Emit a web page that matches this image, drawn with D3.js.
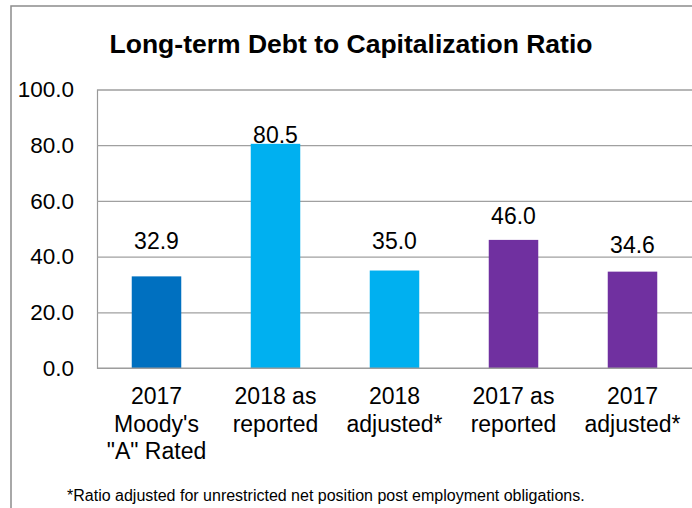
<!DOCTYPE html>
<html>
<head>
<meta charset="utf-8">
<script src="https://cdn.jsdelivr.net/npm/d3@7/dist/d3.min.js"></script>
<style>
  html, body { margin: 0; padding: 0; background: #fff; }
  svg { display: block; font-family: "Liberation Sans", Arial, sans-serif; }
</style>
</head>
<body>
<svg id="chart" width="692" height="508"></svg>
<script>
// Chart data
const categories = [
  "2017\nMoody's\n\"A\" Rated",
  "2018 as\nreported",
  "2018\nadjusted*",
  "2017 as\nreported",
  "2017\nadjusted*"
];
const values = [32.9, 80.5, 35.0, 46.0, 34.6];
const barColors = ["#0070C0", "#00B0F0", "#00B0F0", "#7030A0", "#7030A0"];
const yTicks = [0, 20, 40, 60, 80, 100];
const titleText = "Long-term Debt to Capitalization Ratio";
const footnoteText = "*Ratio adjusted for unrestricted net position post employment obligations.";

// Layout
const labelLift = [27, 1, 22, 16, 19];   // hand-placed gap between bar top and value label
const plot = { left: 97, right: 692, top: 89.5, bottom: 368 };

const svg = d3.select("#chart");

// Outer chart frame (runs off the right/bottom edge)
svg.append("rect")
  .attr("x", 11).attr("y", 6)
  .attr("width", 720).attr("height", 540)
  .attr("fill", "#fff")
  .attr("stroke", "#8c8c8c")
  .attr("stroke-width", 1.5);

const x = d3.scaleBand()
  .domain(categories)
  .range([plot.left, plot.right])
  .paddingInner(0.584)
  .paddingOuter(0.292);

const y = d3.scaleLinear()
  .domain([0, 100])
  .range([plot.bottom, plot.top]);

// Title
svg.append("text")
  .attr("x", 351).attr("y", 53)
  .attr("text-anchor", "middle")
  .attr("font-size", 26.5)
  .attr("font-weight", "bold")
  .attr("fill", "#000")
  .text(titleText);

// Y axis with gridlines
const yAxis = svg.append("g")
  .attr("transform", `translate(${plot.left},0)`)
  .call(d3.axisLeft(y)
    .tickValues(yTicks)
    .tickFormat(d3.format(".1f"))
    .tickSize(-(plot.right - plot.left))
    .tickPadding(23));
yAxis.select(".domain").attr("stroke", "#999").attr("stroke-width", 1.2);
yAxis.selectAll(".tick line").attr("stroke", "#a0a0a0").attr("stroke-width", 1.2);
yAxis.selectAll(".tick text")
  .attr("font-size", 22.5)
  .attr("fill", "#000")
  .attr("font-family", "Liberation Sans, Arial, sans-serif");

// Bars
svg.append("g").selectAll("rect")
  .data(values)
  .join("rect")
  .attr("x", (d, i) => x(categories[i]))
  .attr("y", d => y(d))
  .attr("width", x.bandwidth())
  .attr("height", d => y(0) - y(d))
  .attr("fill", (d, i) => barColors[i]);

// Baseline
svg.append("line")
  .attr("x1", plot.left).attr("x2", plot.right)
  .attr("y1", plot.bottom).attr("y2", plot.bottom)
  .attr("stroke", "#999").attr("stroke-width", 1.2);

// Value labels
svg.append("g").selectAll("text")
  .data(values)
  .join("text")
  .attr("x", (d, i) => x(categories[i]) + x.bandwidth() / 2)
  .attr("y", (d, i) => y(d) - labelLift[i])
  .attr("text-anchor", "middle")
  .attr("font-size", 23)
  .attr("fill", "#000")
  .text(d => d3.format(".1f")(d));

// Category labels
const catG = svg.append("g");
categories.forEach(c => {
  const t = catG.append("text")
    .attr("text-anchor", "middle")
    .attr("font-size", 23)
    .attr("fill", "#000");
  c.split("\n").forEach((line, j) => {
    t.append("tspan")
      .attr("x", x(c) + x.bandwidth() / 2)
      .attr("y", 404 + j * 27.5)
      .text(line);
  });
});

// Footnote
svg.append("text")
  .attr("x", 67).attr("y", 500.5)
  .attr("font-size", 16)
  .attr("fill", "#000")
  .text(footnoteText);
</script>
</body>
</html>
